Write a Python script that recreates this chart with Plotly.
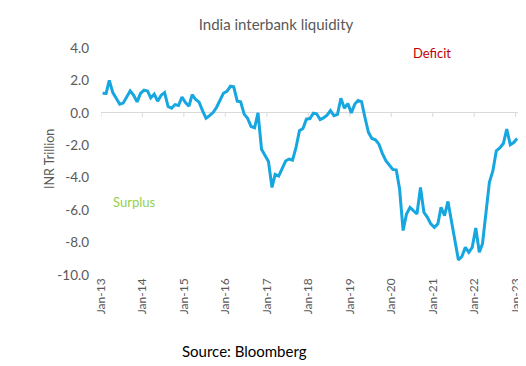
import pandas as pd
import plotly.graph_objects as go

# Monthly observations, Jan-2013 .. Jan-2023 (INR trillion)
start_month = "2013-01"
values = [
    1.21, 1.20, 2.00, 1.25, 0.90, 0.53, 0.60, 0.98, 1.35, 1.09, 0.68, 1.20,   # 2013
    1.40, 1.35, 0.92, 1.15, 0.72, 1.09, 1.25, 0.39, 0.29, 0.51, 0.45, 0.98,   # 2014
    0.63, 0.41, 1.13, 0.82, 0.66, 0.12, -0.33, -0.17, 0.02, 0.33, 0.78, 1.21, # 2015
    1.33, 1.64, 1.60, 0.72, 0.68, -0.08, -0.33, -0.84, -0.92, 0.00, -2.24, -2.65,  # 2016
    -3.00, -4.60, -3.80, -3.90, -3.47, -2.97, -2.85, -2.91, -2.13, -1.10, -0.97, -0.39,  # 2017
    -0.35, -0.02, -0.06, -0.41, -0.31, -0.14, 0.14, -0.18, -0.10, 0.90, 0.29, 0.57,  # 2018
    0.00, 0.55, 0.76, 0.69, -0.29, -1.21, -1.58, -1.66, -1.93, -2.50, -2.95, -3.20,  # 2019
    -3.49, -3.53, -4.70, -7.26, -6.24, -5.83, -6.03, -6.24, -4.60, -6.13, -6.44, -6.85,  # 2020
    -7.06, -6.85, -5.83, -6.34, -5.46, -6.65, -7.88, -9.07, -8.86, -8.29, -8.60, -8.29,  # 2021
    -7.10, -8.60, -8.08, -6.34, -4.29, -3.57, -2.34, -2.17, -1.89, -1.00, -1.97, -1.83,  # 2022
    -1.58,  # Jan-2023
]
tick_dates = [f"{y}-01-01" for y in range(2013, 2024)]
tick_labels = [f"Jan-{str(y)[2:]}" for y in range(2013, 2024)]
y_ticks = [4, 2, 0, -2, -4, -6, -8, -10]
y_tick_labels = ["4.0", "2.0", "0.0", "-2.0", "-4.0", "-6.0", "-8.0", "-10.0"]

dates = pd.date_range(start=start_month + "-01", periods=len(values), freq="MS") + pd.Timedelta(days=14)

FONT = "Lato"
GREY = "#595959"
AXIS_GREY = "#D9D9D9"

# the page body has an 8px margin, so work in window pixels and subtract it
OFF = 8
W, H = 526 - OFF, 366 - OFF
L = 101 - OFF            # left edge of plot (Jan-13) in window px = 101
R = W - (518 - OFF)      # right edge of plot in window px = 518
T = 48 - OFF             # y = 4.0 at window px 48
B = H - (275 - OFF)      # y = -10.0 at window px 275
pw, ph = W - L - R, H - T - B


def px_x(win_x):
    return (win_x - OFF - L) / pw


def px_y(win_y):
    return (H - B - (win_y - OFF)) / ph


x_range = ["2013-01-01", "2023-01-22"]
y_min, y_max = -10, 4

fig = go.Figure()
fig.add_trace(go.Scatter(
    x=dates, y=values, mode="lines",
    line=dict(color="#16A6E0", width=3),
    showlegend=False, hoverinfo="x+y",
))

# small downward tick marks on the zero line at each January
shapes = [
    dict(type="line", xref="x", yref="y", x0=d, x1=d,
         ysizemode="pixel", yanchor=0, y0=0, y1=-4,
         line=dict(color=AXIS_GREY, width=1), layer="below")
    for d in tick_dates
]


def label(text, wx, wy, size, color, angle=0):
    return dict(text=text, xref="paper", yref="paper", x=px_x(wx), y=px_y(wy),
                xanchor="center", yanchor="middle", textangle=angle,
                showarrow=False, font=dict(family=FONT, size=size, color=color))


fig.update_layout(
    width=W, height=H,
    margin=dict(l=L, r=R, t=T, b=B, autoexpand=False),
    paper_bgcolor="white", plot_bgcolor="white",
    font=dict(family=FONT, color=GREY),
    title=dict(text="India interbank liquidity", x=(276 - OFF) / W, xanchor="center",
               y=1 - (25 - OFF) / H, yanchor="middle",
               font=dict(family=FONT, size=15, color=GREY)),
    xaxis=dict(
        type="date", range=x_range, tickmode="array",
        tickvals=tick_dates, ticktext=tick_labels, tickangle=-90,
        showgrid=False, zeroline=False, showline=False, ticks="",
        automargin=False,
        tickfont=dict(family=FONT, size=12, color=GREY),
    ),
    yaxis=dict(
        range=[y_min, y_max], tickmode="array", tickvals=y_ticks,
        ticktext=y_tick_labels, showgrid=False,
        zeroline=True, zerolinecolor=AXIS_GREY, zerolinewidth=1,
        showline=False, ticks="", ticklabelstandoff=11, automargin=False,
        tickfont=dict(family=FONT, size=13.5, color=GREY),
    ),
    shapes=shapes,
    annotations=[
        label("INR Trillion", 49, 159, 12.5, GREY, angle=-90),
        label("Deficit", 432, 53, 13, "#C00000"),
        label("Surplus", 134, 202, 13, "#92D050"),
        label("Source: Bloomberg", 244, 351, 15, "#000000"),
    ],
)

fig.write_html("out.html")
